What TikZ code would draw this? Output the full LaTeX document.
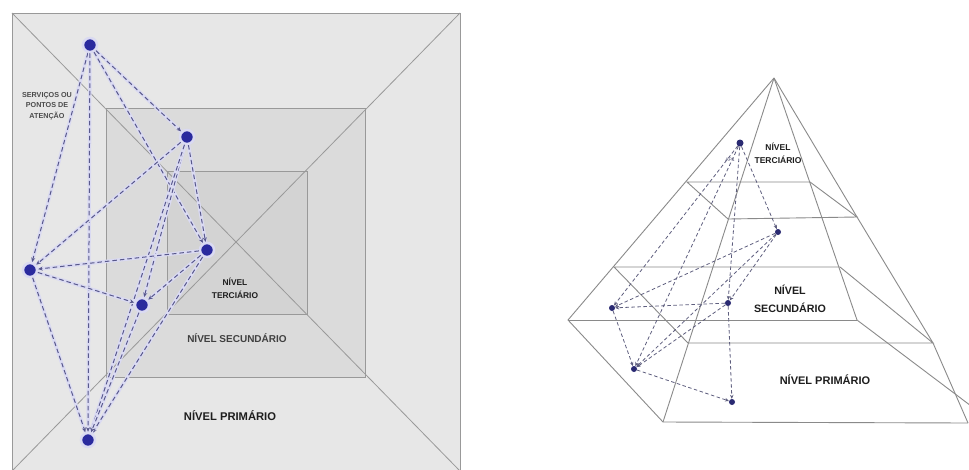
\documentclass[tikz,border=0pt]{standalone}
\usepackage{fontspec}
\setmainfont{Liberation Sans}
\usetikzlibrary{arrows.meta}
\definecolor{outerfill}{HTML}{E7E7E7}
\definecolor{midfill}{HTML}{DBDBDB}
\definecolor{innerfill}{HTML}{D3D3D3}
\definecolor{edgegray}{HTML}{999999}
\definecolor{dashblue}{HTML}{58588C}
\definecolor{haloblue}{HTML}{DADAF2}
\definecolor{dotblue}{HTML}{2A2A9E}
\definecolor{pyrline}{HTML}{8A8A8A}
\definecolor{pdash}{HTML}{5E5E7E}
\definecolor{pdot}{HTML}{2A2A72}
\definecolor{txt}{HTML}{1E1E1E}
\begin{document}
\begin{tikzpicture}[x=1pt,y=-1pt,
  sq/.style={draw=edgegray, line width=0.9pt},
  diag/.style={draw=edgegray, line width=0.8pt},
  conn/.style={draw=dashblue, dash pattern=on 4.5pt off 3pt, line width=1pt,
    -{Stealth[length=4.5pt,width=4pt]},
    preaction={draw=haloblue, line width=3.5pt, solid, arrows=-}},
  bigdot/.style={circle, fill=dotblue, draw=haloblue, line width=2.5pt, minimum size=14pt, inner sep=0pt},
  pyr/.style={draw=pyrline, line width=0.9pt},
  pconn/.style={draw=pdash, dash pattern=on 3.5pt off 2.5pt, line width=0.8pt,
    -{Stealth[length=4pt,width=3.5pt]}},
  smalldot/.style={circle, fill=pdot, minimum size=6pt, inner sep=0pt},
  lbl/.style={text=txt, align=center, inner sep=0pt}
]
\useasboundingbox (0,0) rectangle (969,469);
\begin{scope}
\clip (0,0) rectangle (969,469);
% ---------- left panel: plan view ----------
\path[fill=white] (0,0) rectangle (969,469);
\path[sq, fill=outerfill] (12,13) rectangle (460,471);
\path[sq, fill=midfill] (106,108) rectangle (365,377);
\path[sq, fill=innerfill] (167,171) rectangle (307,314);
\draw[diag] (12,13) -- (460,471);
\draw[diag] (460,13) -- (12,471);

\node[lbl, font=\fontsize{7.2}{10.5}\selectfont\bfseries, text=txt!80] (serv) at (47,106) {SERVIÇOS OU\\PONTOS DE\\ATENÇÃO};
\node[lbl, font=\fontsize{8.4}{12.5}\selectfont\bfseries] (lter) at (235,288.5) {NÍVEL\\TERCIÁRIO};
\node[lbl, font=\fontsize{10}{12}\selectfont\bfseries, text=txt!85] (lsec) at (237,338) {NÍVEL SECUNDÁRIO};
\node[lbl, font=\fontsize{11.2}{13}\selectfont\bfseries] (lpri) at (230,416) {NÍVEL PRIMÁRIO};

\node[bigdot] (p1) at (90,45) {};
\node[bigdot] (p2) at (187,137) {};
\node[bigdot] (p3) at (30,270) {};
\node[bigdot] (p4) at (207,250) {};
\node[bigdot] (p5) at (142,305) {};
\node[bigdot] (p6) at (88,440) {};
\draw[conn] (p1) -- (p2);
\draw[conn] (p1) -- (p4);
\draw[conn] (p1) -- (p3);
\draw[conn] (p1) -- (p6);
\draw[conn] (p2) -- (p3);
\draw[conn] (p2) -- (p4);
\draw[conn] (p2) -- (p5);
\draw[conn] (p2) -- (p6);
\draw[conn] (p4) -- (p3);
\draw[conn] (p3) -- (p5);
\draw[conn] (p3) -- (p6);
\draw[conn] (p4) -- (p5);
\draw[conn] (p4) -- (p6);
\draw[conn] (p5) -- (p6);
\foreach \n in {p1,p2,p3,p4,p5,p6} \node[circle, fill=dotblue, minimum size=10pt, inner sep=0pt] at (\n) {};

% ---------- right panel: pyramid ----------
\coordinate (A) at (774,78);
\coordinate (L) at (568,320);
\coordinate (F) at (663,422);
\coordinate (R) at (968,423);
\coordinate (a1) at (687,182);
\coordinate (b1) at (810,182);
\coordinate (c1) at (728,219);
\coordinate (d1) at (857,217);
\coordinate (a2) at (614,267);
\coordinate (b2) at (840,267);
\coordinate (c2) at (688,343);
\coordinate (d2) at (933,343);
\coordinate (e) at (857,320);
\coordinate (g) at (995,424);

\draw[pyr] (A) -- (L) -- (F) -- (R);
\draw[pyr] (A) -- (d1) -- (d2) -- (R);
\draw[pyr] (A) -- (F);
\draw[pyr] (A) -- (e) -- (g);
\draw[pyr] (a1) -- (b1) -- (d1) -- (c1) -- cycle;
\draw[pyr] (a2) -- (b2) -- (d2) -- (c2) -- cycle;
\draw[pyr] (L) -- (e);

\node[lbl, font=\fontsize{8.5}{13}\selectfont\bfseries] (rter) at (778,153.5) {NÍVEL\\TERCIÁRIO};
\node[lbl, font=\fontsize{10.7}{17.5}\selectfont\bfseries] (rsec) at (790,299) {NÍVEL\\SECUNDÁRIO};
\node[lbl, font=\fontsize{11}{13}\selectfont\bfseries] (rpri) at (825,380) {NÍVEL PRIMÁRIO};
\node[lbl, font=\fontsize{5}{6}\selectfont, text=pdash] (ap) at (730,160) {AP1};

\node[smalldot, minimum size=7pt] (q1) at (740,143) {};
\node[smalldot] (q2) at (778,232) {};
\node[smalldot] (q3) at (612,308) {};
\node[smalldot] (q4) at (728,303) {};
\node[smalldot] (q5) at (634,369) {};
\node[smalldot] (q6) at (732,402) {};
\draw[pconn] (q1) -- (q2);
\draw[pconn] (q1) -- (q3);
\draw[pconn] (q1) -- (q5);
\draw[pconn] (q1) -- (q4);
\draw[pconn] (q4) -- (q6);
\draw[pconn] (q2) -- (q3);
\draw[pconn] (q2) -- (q4);
\draw[pconn] (q2) -- (q5);
\draw[pconn] (q4) -- (q3);
\draw[pconn] (q3) -- (q5);
\draw[pconn] (q4) -- (q5);
\draw[pconn] (q5) -- (q6);
\end{scope}
\end{tikzpicture}
\end{document}
